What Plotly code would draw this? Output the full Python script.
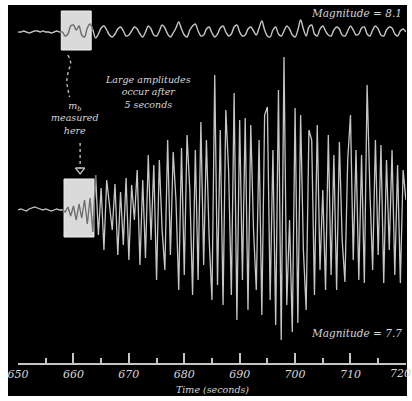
import numpy as np
import plotly.graph_objects as go

# Seismograms sampled every 0.5 s from 650 s to 720 s (amplitudes in display units)
T_START = 650.0
DT = 0.5

# Upper record (magnitude 8.1)
TOP_AMP = [
    0, 0, 1, 0, -1, 0, 1, 1, 0, 1, 0, 0, -1, 0, 1, 0,          # 650 - 657.5
    0, -4, -2, 6, 7, 2, 6, -3, -5, 4, 8, 2,                    # 658 - 663.5
    -6, -2, 4, 6, 2, -3, -5, -2, 3, 5, 1, -4,                  # 664 - 669.5
    -3, 1, 5, 3, -2, -5, 0, 6, 3, -3, -4, 1,                   # 670 - 675.5
    7, 4, -2, -5, -1, 4, 10, 3, -3, -5, 2, 6,                  # 676 - 681.5
    8, 1, -4, -3, 3, 5, -1, -5, -2, 4, 6, 0,                   # 682 - 687.5
    -4, -2, 5, 7, 0, -4, -3, 3, 5, 1, -3, 4,                   # 688 - 693.5
    11, 2, -4, -5, 2, 5, -2, -4, 1, 6, 3, -3,                  # 694 - 699.5
    -5, 2, 12, 3, -4, 5, 7, -2, -4, 3, 6, 1,                   # 700 - 705.5
    -3, -4, 2, 5, 3, -3, -4, 1, 6, 2, -3, -2,                  # 706 - 711.5
    4, 5, -2, -4, 2, 6, 3, -3, -4, 2, 5, 4,                    # 712 - 717.5
    -2, -4, 1, 3, 0,                                           # 718 - 720
]

# Lower record (magnitude 7.7)
LOW_AMP = [
    0, 1, 0, -1, 1, 2, 3, 2, 1, 0, 1, 0, -1, 0, 1, 0,          # 650 - 657.5
    0, -2, 3, -6, 4, -10, 6, -8, 10, -14, 12, -22,             # 658 - 663.5
    35, -25, 22, -40, 30, 5, -20, 26, -45, 18, -35, 32,        # 664 - 669.5
    -50, 25, -10, 40, -55, 30, -48, 55, -30, 45, -70, 50,      # 670 - 675.5
    -20, -60, 70, -45, 58, 10, -80, 62, -65, 75, 20, -85,      # 676 - 681.5
    60, -70, 88, -55, 70, -30, -90, 135, -75, 80, -95, 100,    # 682 - 687.5
    40, -85, 117, -110, 90, -70, 92, -100, 85, -20, -80, 70,   # 688 - 693.5
    -105, 95, 103, -90, 60, -115, 120, -130, 153, -95, -10, -122,  # 694 - 699.5
    102, -113, 95, -40, -100, 80, 70, -85, 85, -60, 20, -80,   # 700 - 705.5
    75, -65, 55, -80, 68, -30, -72, 50, 95, -50, 60, -70,      # 706 - 711.5
    55, -73, 125, 20, -60, 70, -45, 65, -73, 50, -40, 60,      # 712 - 717.5
    -65, 45, -73, 40, 10,                                      # 718 - 720
]

# Time axis ticks
TICK_VALUES = [650, 660, 670, 680, 690, 700, 710, 720]
TICK_LABELS = ["650", "660", "670", "680", "690", "700", "710", "720"]
TICK_MINOR = 5

# Baselines of the two records on the shared vertical scale
TOP_BASE = 331
LOW_BASE = 153

# m_b measurement windows (s) and their vertical extent about each baseline
TOP_WINDOW = (657.8, 663.2)
LOW_WINDOW = (658.3, 663.7)
TOP_BOX_SPAN = (-18, 21)
LOW_BOX_SPAN = (-27, 31)

LINE = "#c6c6c6"
DARK_LINE = "#6e6e6e"
TEXT = "#d6d6d6"
AXIS = "#c4c4c4"
BOX_FILL = "#dadada"
GUIDE = "#bdbdbd"

t = T_START + DT * np.arange(len(LOW_AMP))
top = np.array(TOP_AMP, dtype=float)
low = np.array(LOW_AMP, dtype=float)
assert len(top) == len(low) == 141

fig = go.Figure()


def add_record(amp, base, window, width, shape):
    fig.add_trace(go.Scatter(x=t, y=base + amp, mode="lines",
                             line=dict(color=LINE, width=width, shape=shape),
                             hoverinfo="skip"))
    inside = (t >= window[0] - DT) & (t <= window[1] + DT)
    fig.add_trace(go.Scatter(x=t[inside], y=(base + amp)[inside], mode="lines",
                             line=dict(color=DARK_LINE, width=width, shape=shape),
                             hoverinfo="skip"))


shapes = [
    # dark panel behind the whole drawing
    dict(type="rect", xref="paper", yref="paper", x0=-0.0258, x1=1.0026,
         y0=-0.092, y1=1.0, fillcolor="black", line=dict(width=0), layer="below"),
    dict(type="rect", x0=TOP_WINDOW[0], x1=TOP_WINDOW[1],
         y0=TOP_BASE + TOP_BOX_SPAN[0], y1=TOP_BASE + TOP_BOX_SPAN[1],
         fillcolor=BOX_FILL, line=dict(color="#f2f2f2", width=1), layer="below"),
    dict(type="rect", x0=LOW_WINDOW[0], x1=LOW_WINDOW[1],
         y0=LOW_BASE + LOW_BOX_SPAN[0], y1=LOW_BASE + LOW_BOX_SPAN[1],
         fillcolor=BOX_FILL, line=dict(color="#f2f2f2", width=1), layer="below"),
]

add_record(top, TOP_BASE, TOP_WINDOW, 1.4, "spline")
add_record(low, LOW_BASE, LOW_WINDOW, 1.3, "linear")

# dotted leader from the upper window to the label
fig.add_trace(go.Scatter(
    x=[659.0, 659.5, 659.1, 658.8, 659.0, 659.3],
    y=[308, 300, 292, 282, 274, 266], mode="lines",
    line=dict(color=GUIDE, width=1.4, dash="dot", shape="spline"),
    hoverinfo="skip"))
# dotted leader from the label down to the lower window, with an open head
fig.add_trace(go.Scatter(
    x=[661.2, 661.2], y=[220, 194], mode="lines",
    line=dict(color=GUIDE, width=1.4, dash="dot"), hoverinfo="skip"))
fig.add_trace(go.Scatter(
    x=[661.2], y=[193], mode="markers",
    marker=dict(symbol="triangle-down-open", size=8, color=GUIDE,
                line=dict(width=1.3, color=GUIDE)),
    hoverinfo="skip"))

tick_font = dict(family="DejaVu Serif", size=11, color=TEXT, style="italic")
label_font = dict(family="DejaVu Serif", size=9.5, color=TEXT, style="italic")

# the right-most tick label sits against the page edge; it is written as an
# annotation nudged inward so it neither pushes the margin nor gets clipped
edge_labels = [dict(x=v, y=-0.03, xref="x", yref="paper", text=s, showarrow=False,
                    yanchor="middle", xshift=-5, font=tick_font)
               for v, s in zip(TICK_VALUES[-1:], TICK_LABELS[-1:])]

annotations = edge_labels + [
    dict(x=719.6, y=350, text="Magnitude = 8.1", xanchor="right", yanchor="middle",
         showarrow=False, font=dict(label_font, size=10.5)),
    dict(x=719.6, y=30, text="Magnitude = 7.7", xanchor="right", yanchor="middle",
         showarrow=False, font=dict(label_font, size=10.5)),
    dict(x=673.5, y=271, text="Large amplitudes<br>occur after<br>5 seconds",
         showarrow=False, align="center", font=label_font),
    dict(x=660.3, y=245, text="m<sub>b</sub><br>measured<br>here",
         showarrow=False, align="center", font=label_font),
    dict(x=0.5, y=-0.075, xref="paper", yref="paper", text="Time (seconds)",
         showarrow=False, yanchor="middle", font=label_font),
]

fig.update_layout(
    width=412, height=401,
    margin=dict(l=18, r=6, t=5, b=38, autoexpand=False),
    paper_bgcolor="white", plot_bgcolor="black",
    showlegend=False,
    shapes=shapes, annotations=annotations,
    xaxis=dict(range=[649.99, 720.02], showgrid=False, zeroline=False,
               showline=True, linecolor=AXIS, linewidth=1.5,
               ticks="inside", ticklen=10, tickwidth=1.5, tickcolor=AXIS,
               tickmode="array", tickvals=TICK_VALUES,
               ticktext=TICK_LABELS[:-1] + [""],
               minor=dict(ticks="inside", ticklen=5, tickwidth=1.5,
                          tickcolor=AXIS, dtick=TICK_MINOR, showgrid=False),
               tickfont=tick_font, automargin=False, fixedrange=True),
    yaxis=dict(range=[0, 358], visible=False, fixedrange=True),
)

fig.write_html("out.html")
